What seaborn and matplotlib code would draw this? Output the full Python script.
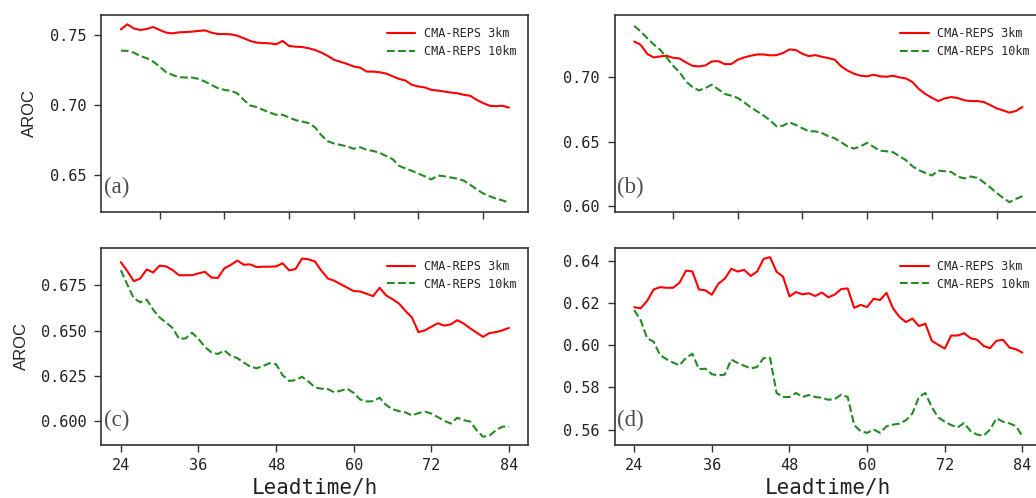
import numpy as np
import pandas as pd
import matplotlib
matplotlib.use("Agg")
import matplotlib.pyplot as plt
import seaborn as sns
from matplotlib.ticker import FormatStrFormatter

# lead times (hourly, 24-84 h)
hours = np.arange(24, 85)

# (a)
a_3km = [0.7538, 0.7574, 0.7545, 0.7534, 0.7541, 0.7555, 0.7534, 0.7515, 0.7510, 0.7517,
         0.7519, 0.7522, 0.7527, 0.7531, 0.7515, 0.7505, 0.7505, 0.7503, 0.7493, 0.7475,
         0.7456, 0.7444, 0.7441, 0.7439, 0.7432, 0.7456, 0.7420, 0.7415, 0.7413, 0.7404,
         0.7392, 0.7373, 0.7349, 0.7321, 0.7307, 0.7292, 0.7274, 0.7266, 0.7238, 0.7238,
         0.7233, 0.7224, 0.7205, 0.7186, 0.7174, 0.7144, 0.7132, 0.7125, 0.7108, 0.7103,
         0.7096, 0.7089, 0.7084, 0.7073, 0.7066, 0.7037, 0.7014, 0.6995, 0.6992, 0.6995,
         0.6982]
a_10km = [0.7387, 0.7385, 0.7373, 0.7349, 0.7333, 0.7309, 0.7274, 0.7233, 0.7214, 0.7198,
          0.7196, 0.7196, 0.7186, 0.7167, 0.7144, 0.7120, 0.7108, 0.7101, 0.7084, 0.7037,
          0.6997, 0.6985, 0.6966, 0.6947, 0.6931, 0.6931, 0.6912, 0.6893, 0.6883, 0.6872,
          0.6842, 0.6785, 0.6742, 0.6726, 0.6716, 0.6706, 0.6689, 0.6700, 0.6681, 0.6674,
          0.6660, 0.6638, 0.6616, 0.6568, 0.6549, 0.6532, 0.6512, 0.6493, 0.6471, 0.6499,
          0.6494, 0.6485, 0.6477, 0.6463, 0.6433, 0.6401, 0.6372, 0.6352, 0.6335, 0.6322,
          0.6306]

# (b)
b_3km = [0.7278, 0.7252, 0.7182, 0.7154, 0.7162, 0.7167, 0.7151, 0.7146, 0.7115, 0.7089,
         0.7084, 0.7092, 0.7123, 0.7125, 0.7102, 0.7102, 0.7136, 0.7154, 0.7167, 0.7177,
         0.7177, 0.7170, 0.7172, 0.7188, 0.7216, 0.7211, 0.7182, 0.7164, 0.7172, 0.7159,
         0.7149, 0.7136, 0.7084, 0.7051, 0.7027, 0.7012, 0.7007, 0.7020, 0.7007, 0.7004,
         0.7012, 0.6999, 0.6991, 0.6963, 0.6909, 0.6870, 0.6841, 0.6815, 0.6836, 0.6846,
         0.6839, 0.6821, 0.6815, 0.6815, 0.6808, 0.6785, 0.6759, 0.6743, 0.6725, 0.6738,
         0.6769]
b_10km = [0.7399, 0.7356, 0.7304, 0.7255, 0.7214, 0.7154, 0.7090, 0.7040, 0.6968, 0.6924,
          0.6898, 0.6916, 0.6942, 0.6906, 0.6870, 0.6857, 0.6839, 0.6805, 0.6767, 0.6735,
          0.6702, 0.6666, 0.6619, 0.6624, 0.6650, 0.6629, 0.6604, 0.6580, 0.6580, 0.6567,
          0.6542, 0.6526, 0.6495, 0.6462, 0.6446, 0.6464, 0.6490, 0.6459, 0.6430, 0.6425,
          0.6418, 0.6387, 0.6356, 0.6309, 0.6278, 0.6257, 0.6237, 0.6275, 0.6270, 0.6265,
          0.6229, 0.6214, 0.6229, 0.6219, 0.6185, 0.6146, 0.6102, 0.6064, 0.6030, 0.6055,
          0.6076]

# (c)
c_3km = [0.6878, 0.6829, 0.6773, 0.6788, 0.6838, 0.6821, 0.6859, 0.6855, 0.6834, 0.6806,
         0.6806, 0.6806, 0.6816, 0.6825, 0.6793, 0.6791, 0.6844, 0.6863, 0.6887, 0.6864,
         0.6866, 0.6851, 0.6853, 0.6853, 0.6855, 0.6872, 0.6833, 0.6840, 0.6898, 0.6894,
         0.6882, 0.6831, 0.6788, 0.6775, 0.6756, 0.6737, 0.6718, 0.6716, 0.6703, 0.6690,
         0.6737, 0.6694, 0.6673, 0.6649, 0.6608, 0.6572, 0.6491, 0.6501, 0.6521, 0.6540,
         0.6527, 0.6534, 0.6557, 0.6538, 0.6512, 0.6488, 0.6465, 0.6486, 0.6491, 0.6501,
         0.6514]
c_10km = [0.6834, 0.6754, 0.6679, 0.6656, 0.6671, 0.6615, 0.6572, 0.6544, 0.6514, 0.6454,
          0.6456, 0.6488, 0.6454, 0.6409, 0.6379, 0.6370, 0.6390, 0.6360, 0.6347, 0.6323,
          0.6300, 0.6291, 0.6304, 0.6319, 0.6313, 0.6253, 0.6221, 0.6225, 0.6244, 0.6218,
          0.6185, 0.6178, 0.6176, 0.6158, 0.6167, 0.6178, 0.6154, 0.6118, 0.6107, 0.6109,
          0.6128, 0.6088, 0.6064, 0.6054, 0.6047, 0.6030, 0.6043, 0.6051, 0.6040, 0.6021,
          0.6000, 0.5985, 0.6017, 0.6004, 0.5996, 0.5948, 0.5912, 0.5919, 0.5949, 0.5968,
          0.5968]

# (d)
d_3km = [0.6179, 0.6174, 0.6209, 0.6263, 0.6274, 0.6271, 0.6271, 0.6295, 0.6352, 0.6348,
         0.6263, 0.6259, 0.6238, 0.6290, 0.6314, 0.6361, 0.6348, 0.6356, 0.6327, 0.6348,
         0.6408, 0.6416, 0.6347, 0.6324, 0.6230, 0.6251, 0.6240, 0.6245, 0.6232, 0.6249,
         0.6226, 0.6239, 0.6265, 0.6268, 0.6176, 0.6190, 0.6180, 0.6219, 0.6213, 0.6247,
         0.6174, 0.6133, 0.6109, 0.6125, 0.6090, 0.6101, 0.6020, 0.6001, 0.5983, 0.6045,
         0.6045, 0.6056, 0.6032, 0.6025, 0.5996, 0.5985, 0.6020, 0.6025, 0.5988, 0.5980,
         0.5964]
d_10km = [0.6166, 0.6117, 0.6032, 0.6016, 0.5952, 0.5933, 0.5917, 0.5904, 0.5939, 0.5959,
          0.5886, 0.5888, 0.5862, 0.5856, 0.5860, 0.5931, 0.5915, 0.5902, 0.5889, 0.5896,
          0.5938, 0.5939, 0.5773, 0.5754, 0.5754, 0.5773, 0.5754, 0.5763, 0.5754, 0.5750,
          0.5741, 0.5744, 0.5765, 0.5754, 0.5621, 0.5592, 0.5584, 0.5600, 0.5584, 0.5615,
          0.5623, 0.5628, 0.5644, 0.5676, 0.5754, 0.5773, 0.5705, 0.5657, 0.5637, 0.5621,
          0.5610, 0.5631, 0.5592, 0.5576, 0.5571, 0.5600, 0.5653, 0.5637, 0.5629, 0.5616,
          0.5568]

panel_labels = ["(a)", "(b)", "(c)", "(d)"]
series_3km = [a_3km, b_3km, c_3km, d_3km]
series_10km = [a_10km, b_10km, c_10km, d_10km]
ylims = [(0.6241, 0.7639), (0.5955, 0.7482), (0.5868, 0.6956), (0.5528, 0.6459)]
yticks = [[0.65, 0.70, 0.75], [0.60, 0.65, 0.70],
          [0.600, 0.625, 0.650, 0.675], [0.56, 0.58, 0.60, 0.62, 0.64]]
yfmt = ["%.2f", "%.2f", "%.3f", "%.2f"]
xticks_bottom = [24, 36, 48, 60, 72, 84]

sns.set_style("ticks")
plt.rcParams["font.family"] = ["DejaVu Sans Mono"]

fig, axes = plt.subplots(2, 2, figsize=(10.36, 4.98), dpi=100)
fig.subplots_adjust(left=0.0979, right=1.0056, top=0.9695, bottom=0.107,
                    wspace=0.2023, hspace=0.1846)

dark = "#333333"
for i, ax in enumerate(axes.flat):
    sns.lineplot(x=hours, y=series_3km[i], ax=ax, color="red", lw=1.5,
                 label="CMA-REPS 3km")
    sns.lineplot(x=hours, y=series_10km[i], ax=ax, color="#228b22", lw=1.5,
                 linestyle="--", label="CMA-REPS 10km")
    ax.set_xlim(21, 87)
    ax.set_ylim(*ylims[i])
    ax.set_yticks(yticks[i])
    ax.yaxis.set_major_formatter(FormatStrFormatter(yfmt[i]))
    for sp in ax.spines.values():
        sp.set_color(dark)
        sp.set_linewidth(1.2)
    ax.tick_params(direction="out", length=5, width=1, colors=dark,
                   labelsize=11, labelcolor="#222222")
    ax.tick_params(axis="y", pad=6)
    ax.tick_params(axis="x", pad=4.5)
    if i < 2:
        ax.tick_params(labelbottom=False)
    else:
        ax.set_xticks(xticks_bottom)
        ax.set_xlabel("Leadtime/h", fontsize=15, color="#222222")
        ax.xaxis.set_label_coords(0.5, -0.165)
    if i % 2 == 0:
        ax.set_ylabel("AROC", fontsize=12, family="Liberation Sans", color="#222222")
        ax.yaxis.set_label_coords(-0.151 if i == 0 else -0.170, 0.5)
    else:
        ax.set_ylabel("")
    ax.text(0.006, 0.07, panel_labels[i], transform=ax.transAxes, fontsize=16.5,
            family="Liberation Serif", color="#4d4d4d", ha="left", va="bottom")
    leg = ax.legend(loc="upper right", frameon=False, fontsize=8.5,
                    handlelength=2.4, handletextpad=0.75, labelspacing=0.4,
                    borderaxespad=0.6)

fig.savefig("out.png", dpi=100)
